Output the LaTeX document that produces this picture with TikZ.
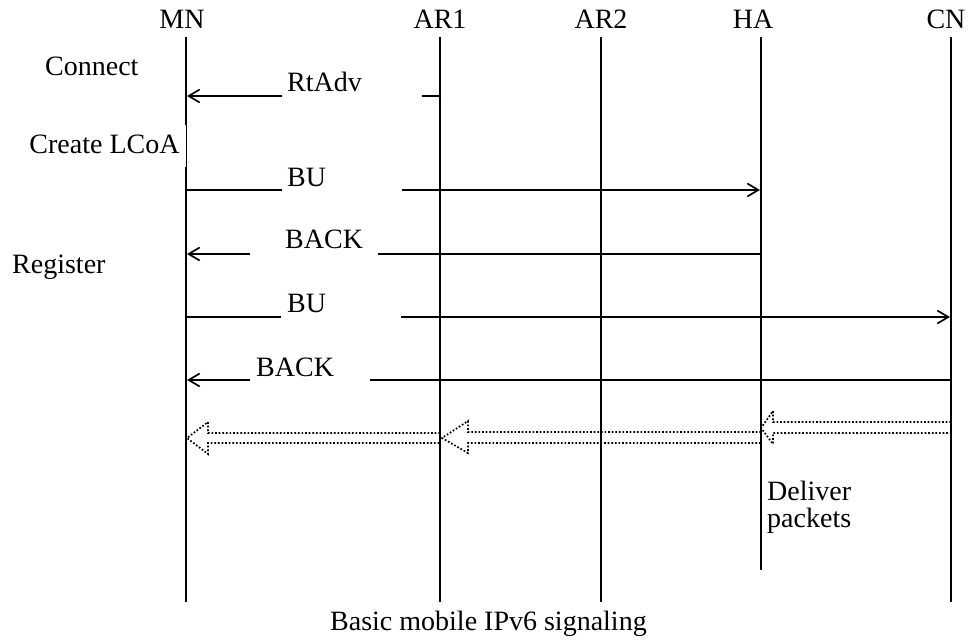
\documentclass[tikz,border=0pt]{standalone}
\usepackage{fontspec}
\setmainfont{Liberation Serif}
\usetikzlibrary{arrows.meta}
\tikzset{
  txt/.style={inner sep=0pt, font=\fontsize{28}{32}\selectfont},
  hdr/.style={txt, anchor=base},
  life/.style={line width=2.2pt},
  msg/.style={line width=2.2pt},
  msgarrow/.style={msg, -{Straight Barb[length=11pt,width=13pt,line width=1.7pt]}},
  gaplbl/.style={txt, anchor=base west, fill=white, text height=20pt, text depth=9pt},
  flow/.style={line width=1.7pt, dash pattern=on 1.7pt off 1.9pt, line join=miter}
}
\begin{document}
\begin{tikzpicture}[x=1pt,y=-1pt]
\useasboundingbox (0,0) rectangle (968,641);
% headers
\node[hdr] (MN)  at (182,28) {MN};
\node[hdr] (AR1) at (440,28) {AR1};
\node[hdr] (AR2) at (601,28) {AR2};
\node[hdr] (HA)  at (753,28) {HA};
\node[hdr] (CN)  at (946,28) {CN};
% lifelines
\coordinate (MNt)  at (186,37);  \coordinate (MNb)  at (186,602);
\coordinate (AR1t) at (440,37);  \coordinate (AR1b) at (440,602);
\coordinate (AR2t) at (601,37);  \coordinate (AR2b) at (601,602);
\coordinate (HAt)  at (761,37);  \coordinate (HAb)  at (761,570);
\coordinate (CNt)  at (951,37);  \coordinate (CNb)  at (951,602);
\draw[life] (MNt) -- (MNb);
\draw[life] (AR1t) -- (AR1b);
\draw[life] (AR2t) -- (AR2b);
\draw[life] (HAt) -- (HAb);
\draw[life] (CNt) -- (CNb);
% message end points
\coordinate (m1s) at (441,96);  \coordinate (m1e) at (187,96);
\coordinate (m2s) at (185,190); \coordinate (m2e) at (760,190);
\coordinate (m3s) at (761,254); \coordinate (m3e) at (187,254);
\coordinate (m4s) at (185,317); \coordinate (m4e) at (950,317);
\coordinate (m5s) at (951,380); \coordinate (m5e) at (187,380);
\draw[msgarrow] (m1s) -- (m1e);
\draw[msgarrow] (m2s) -- (m2e);
\draw[msgarrow] (m3s) -- (m3e);
\draw[msgarrow] (m4s) -- (m4e);
\draw[msgarrow] (m5s) -- (m5e);
% message labels
\node[gaplbl] (l1) at (282,91)  {\makebox[140pt][l]{\hspace{5pt}RtAdv}};
\node[gaplbl] (l2) at (282,186) {\makebox[120pt][l]{\hspace{5pt}BU}};
\node[gaplbl] (l3) at (250,248) {\makebox[128pt][l]{\hspace{35pt}BACK}};
\node[gaplbl] (l4) at (281,312) {\makebox[120pt][l]{\hspace{6pt}BU}};
\node[gaplbl] (l5) at (250,376) {\makebox[120pt][l]{\hspace{6pt}BACK}};
% side labels
\node[txt, anchor=base west] (connect) at (45,75) {Connect};
\node[txt, anchor=base east, fill=white, inner xsep=6pt, text height=28pt, text depth=14pt] (lcoa) at (185.7,153) {Create LCoA};
\node[txt, anchor=base west] (register) at (12,273) {Register};
\node[txt, anchor=base west, align=left, font=\fontsize{28}{27}\selectfont] (deliver) at (767,527) {Deliver\\packets};
% data flow hollow arrows
\draw[flow] (440,433) -- (208,433) -- (208,422) -- (187,438) -- (208,454) -- (208,443) -- (440,443);
\draw[flow] (761,432) -- (468,432) -- (468,421) -- (442,438) -- (468,453) -- (468,443) -- (761,443);
\draw[flow] (951,422) -- (773,422) -- (773,411) -- (761,428) -- (773,444) -- (773,433) -- (951,433);
% caption
\node[txt, anchor=base west] (title) at (330,630) {Basic mobile IPv6 signaling};
\end{tikzpicture}
\end{document}
